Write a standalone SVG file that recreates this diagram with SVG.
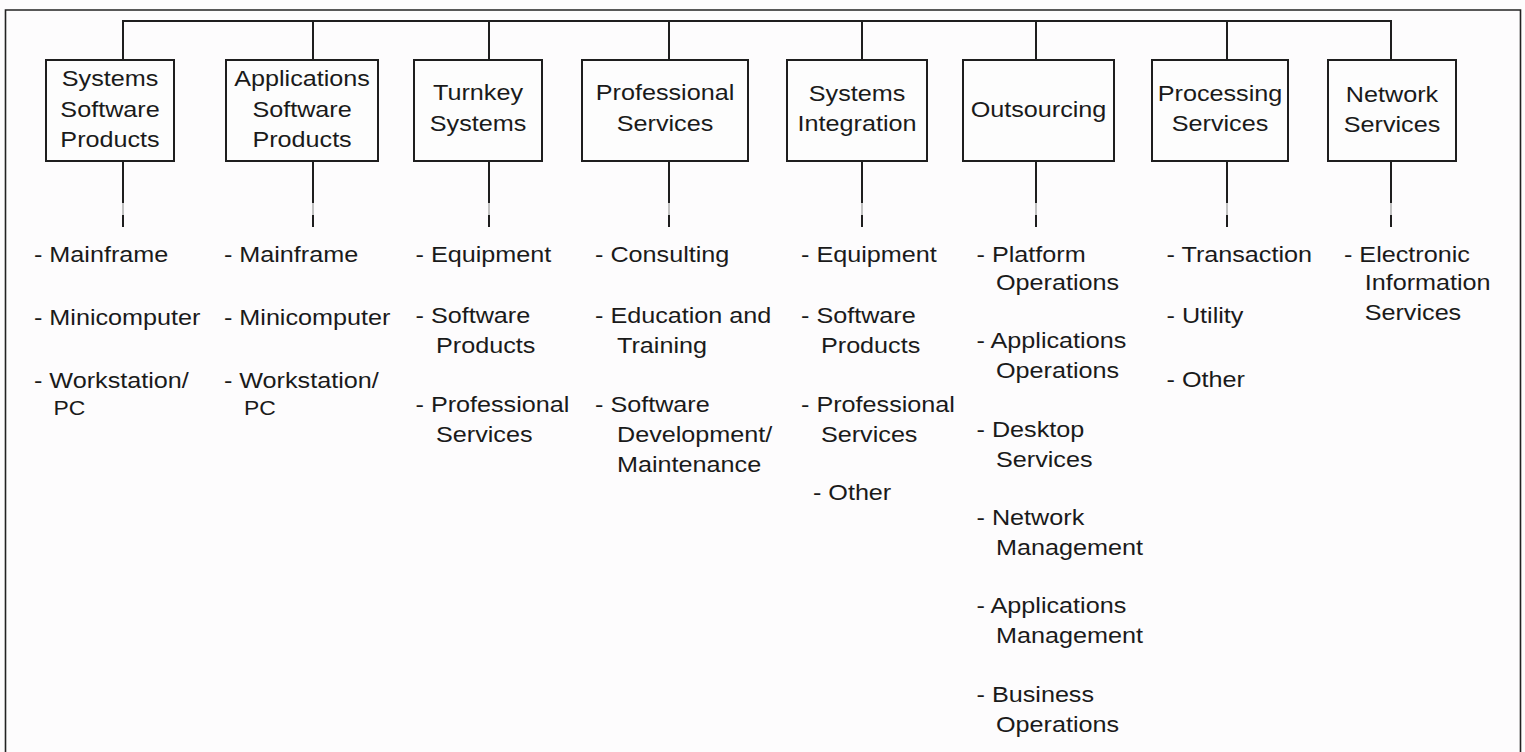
<svg xmlns="http://www.w3.org/2000/svg" width="1525" height="752" viewBox="0 0 1525 752">
<style>
.bg{fill:#fdfcfd}
.frame{fill:none;stroke:#222;stroke-width:1.6}
.box{fill:#fdfdfd;stroke:#1e1e1e;stroke-width:2}
.ln{fill:none;stroke:#1e1e1e;stroke-width:2}
.faint{fill:none;stroke:#9a9a9a;stroke-width:1.2}
text{font-family:"Liberation Sans",Arial,Helvetica,sans-serif;font-size:22px;fill:#1a1a1a}
.c{text-anchor:middle}
.pc{font-size:20px}
</style>
<rect class="bg" x="0" y="0" width="1525" height="752"/>
<path class="frame" d="M5.5,752 V10 H1520.5 V752"/>
<g id="connectors">
<path class="ln" d="M123,60 V21 H1391 V60"/>
<path class="ln" d="M313,21 V60 M489,21 V60 M669,21 V60 M862,21 V60 M1036,21 V60 M1227,21 V60"/>
<path class="ln" d="M123,161 V203 M313,161 V203 M489,161 V203 M669,161 V203 M862,161 V203 M1036,161 V203 M1227,161 V203 M1391,161 V203"/>
<path class="faint" d="M123,203 V215 M313,203 V215 M489,203 V215 M669,203 V215 M862,203 V215 M1036,203 V215 M1227,203 V215 M1391,203 V215"/>
<path class="ln" d="M123,215 V227 M313,215 V227 M489,215 V227 M669,215 V227 M862,215 V227 M1036,215 V227 M1227,215 V227 M1391,215 V227"/>
</g>
<g id="n1"><rect class="box" x="46" y="60" width="128" height="101"/>
<g transform="scale(1.145 1)"><text class="c" x="96.1" y="86">Systems</text><text class="c" x="96.1" y="117">Software</text><text class="c" x="96.1" y="147">Products</text>
<text x="29.7" y="262">- Mainframe</text><text x="29.7" y="325">- Minicomputer</text><text x="29.7" y="388">- Workstation/</text><text class="pc" x="46.8" y="415">PC</text></g></g>
<g id="n2"><rect class="box" x="226" y="60" width="152" height="101"/>
<g transform="scale(1.145 1)"><text class="c" x="263.8" y="86">Applications</text><text class="c" x="263.8" y="117">Software</text><text class="c" x="263.8" y="147">Products</text>
<text x="195.6" y="262">- Mainframe</text><text x="195.6" y="325">- Minicomputer</text><text x="195.6" y="388">- Workstation/</text><text class="pc" x="213.1" y="415">PC</text></g></g>
<g id="n3"><rect class="box" x="414" y="60" width="128" height="101"/>
<g transform="scale(1.145 1)"><text class="c" x="417.5" y="100">Turnkey</text><text class="c" x="417.5" y="131">Systems</text>
<text x="362.9" y="262">- Equipment</text><text x="362.9" y="323">- Software</text><text x="380.8" y="353">Products</text><text x="362.9" y="412">- Professional</text><text x="380.8" y="442">Services</text></g></g>
<g id="n4"><rect class="box" x="582" y="60" width="166" height="101"/>
<g transform="scale(1.145 1)"><text class="c" x="580.8" y="100">Professional</text><text class="c" x="580.8" y="131">Services</text>
<text x="519.7" y="262">- Consulting</text><text x="519.7" y="323">- Education and</text><text x="538.9" y="353">Training</text><text x="519.7" y="412">- Software</text><text x="538.9" y="442">Development/</text><text x="538.9" y="472">Maintenance</text></g></g>
<g id="n5"><rect class="box" x="787" y="60" width="140" height="101"/>
<g transform="scale(1.145 1)"><text class="c" x="748.5" y="101">Systems</text><text class="c" x="748.5" y="131">Integration</text>
<text x="699.6" y="262">- Equipment</text><text x="699.6" y="323">- Software</text><text x="717" y="353">Products</text><text x="699.6" y="412">- Professional</text><text x="717" y="442">Services</text><text x="710" y="500">- Other</text></g></g>
<g id="n6"><rect class="box" x="963" y="60" width="151" height="101"/>
<g transform="scale(1.145 1)"><text class="c" x="907" y="117">Outsourcing</text>
<text x="852.9" y="262">- Platform</text><text x="869.9" y="290">Operations</text><text x="852.9" y="348">- Applications</text><text x="869.9" y="378">Operations</text><text x="852.9" y="437">- Desktop</text><text x="869.9" y="467">Services</text><text x="852.9" y="525">- Network</text><text x="869.9" y="555">Management</text><text x="852.9" y="613">- Applications</text><text x="869.9" y="643">Management</text><text x="852.9" y="702">- Business</text><text x="869.9" y="732">Operations</text></g></g>
<g id="n7"><rect class="box" x="1152" y="60" width="136" height="101"/>
<g transform="scale(1.145 1)"><text class="c" x="1065.5" y="101">Processing</text><text class="c" x="1065.5" y="131">Services</text>
<text x="1018.8" y="262">- Transaction</text><text x="1018.8" y="323">- Utility</text><text x="1018.8" y="387">- Other</text></g></g>
<g id="n8"><rect class="box" x="1328" y="60" width="128" height="101"/>
<g transform="scale(1.145 1)"><text class="c" x="1215.7" y="102">Network</text><text class="c" x="1215.7" y="132">Services</text>
<text x="1173.8" y="262">- Electronic</text><text x="1191.9" y="290">Information</text><text x="1191.9" y="320">Services</text></g></g>
</svg>
